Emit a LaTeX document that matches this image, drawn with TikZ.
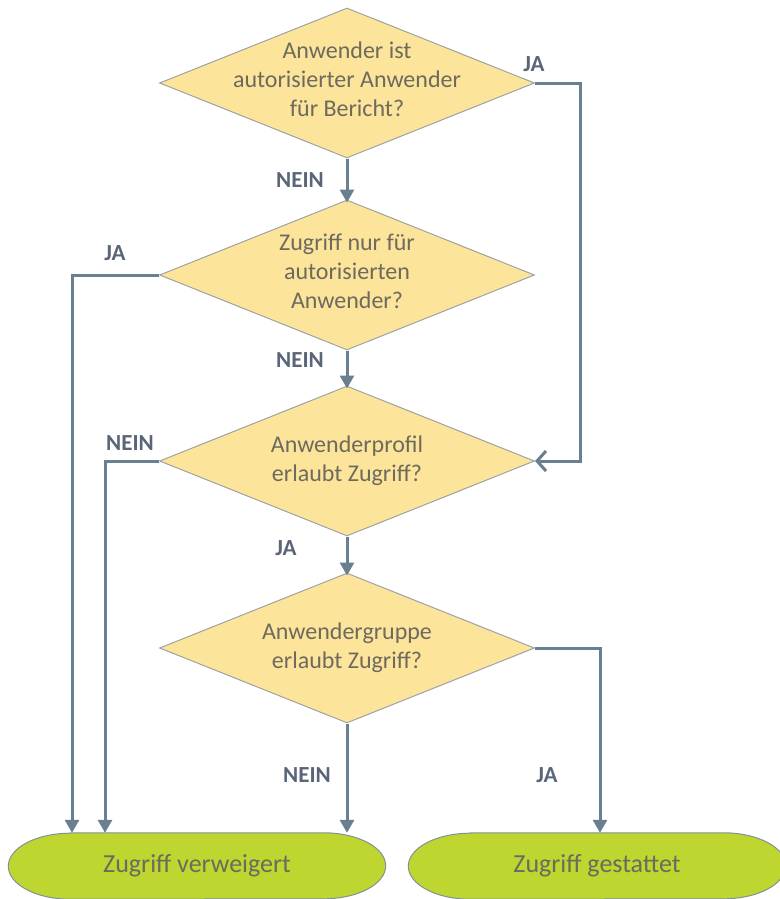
\documentclass[tikz,border=0pt]{standalone}
\usepackage{fontspec}
\setmainfont{Carlito}
\usetikzlibrary{shapes.geometric,arrows.meta,backgrounds}
\definecolor{dfill}{HTML}{FDE49B}
\definecolor{dborder}{HTML}{9EA3A2}
\definecolor{conn}{HTML}{6A7F90}
\definecolor{efill}{HTML}{BED62F}
\definecolor{eborder}{HTML}{7F929C}
\definecolor{dtext}{HTML}{6D6A5E}
\definecolor{ltext}{HTML}{5A6577}
\tikzset{
  decision/.style={diamond, fill=dfill, draw=dborder, line width=1pt,
    minimum width=375pt, minimum height=150pt, inner sep=0pt},
  dtxt/.style={align=center, text=dtext, inner sep=0pt,
    font=\fontsize{24}{29}\selectfont},
  endbox/.style={rectangle, draw=none, minimum width=377pt, minimum height=66pt,
    inner sep=0pt, text=dtext, font=\fontsize{26}{30}\selectfont},
  endshape/.style={fill=efill, draw=eborder, line width=1pt},
  conn/.style={draw=conn, line width=3pt, -{Triangle[length=13pt,width=14pt]}},
  connopen/.style={draw=conn, line width=3pt, -{Straight Barb[length=9pt,width=20pt,line width=3pt]}},
  lbl/.style={text=ltext, font=\bfseries\fontsize{23}{26}\selectfont, inner sep=0pt}
}
\begin{document}
\begin{tikzpicture}[x=1pt,y=-1pt]
\useasboundingbox (0,0) rectangle (779,899);
\clip (0,0) rectangle (779,899);
\node[decision, label={[dtxt,yshift=4pt]center:{Anwender ist\\autorisierter Anwender\\für Bericht?}}] (d1) at (347,83) {};
\node[decision, label={[dtxt,yshift=4pt]center:{Zugriff nur für\\autorisierten\\Anwender?}}] (d2) at (347,275) {};
\node[decision, label={[dtxt]center:{Anwenderprofil\\erlaubt Zugriff?}}] (d3) at (347,461) {};
\node[decision, label={[dtxt]center:{Anwendergruppe\\erlaubt Zugriff?}}] (d4) at (347,648) {};
\node[endbox] (deny) at (197,866) {Zugriff verweigert};
\node[endbox] (allow) at (597,866) {Zugriff gestattet};
\begin{scope}[on background layer]
\draw[endshape] ([xshift=62pt]deny.north west) -- ([xshift=-62pt]deny.north east)
  arc[start angle=90,end angle=-90,x radius=62pt,y radius=33pt]
  -- ([xshift=62pt]deny.south west)
  arc[start angle=270,end angle=90,x radius=62pt,y radius=33pt] -- cycle;
\draw[endshape] ([xshift=62pt]allow.north west) -- ([xshift=-62pt]allow.north east)
  arc[start angle=90,end angle=-90,x radius=62pt,y radius=33pt]
  -- ([xshift=62pt]allow.south west)
  arc[start angle=270,end angle=90,x radius=62pt,y radius=33pt] -- cycle;
\end{scope}
\coordinate (c1) at (580,83);
\coordinate (c2) at (72,275);
\coordinate (c3) at (105,461);
\coordinate (c4) at (600,648);
\draw[conn] (d1.south) -- ([yshift=-3pt]d2.north);
\draw[conn] (d2.south) -- ([yshift=-3pt]d3.north);
\draw[conn] (d3.south) -- ([yshift=-3pt]d4.north);
\draw[connopen] (d1.east) -- (c1) |- (d3.east);
\draw[conn] (d2.west) -- (c2) -- (c2 |- deny.north);
\draw[conn] (d3.west) -- (c3) -- (c3 |- deny.north);
\draw[conn] (d4.south) -- (d4.south |- deny.north);
\draw[conn] (d4.east) -- (c4) -- (c4 |- allow.north);
\node[lbl] (l1) at (300,180) {NEIN};
\node[lbl] (l2) at (534,64) {JA};
\node[lbl] (l3) at (115,253) {JA};
\node[lbl] (l4) at (300,360) {NEIN};
\node[lbl] (l5) at (130,443) {NEIN};
\node[lbl] (l6) at (286,548) {JA};
\node[lbl] (l7) at (307,775) {NEIN};
\node[lbl] (l8) at (547,775) {JA};
\end{tikzpicture}
\end{document}
